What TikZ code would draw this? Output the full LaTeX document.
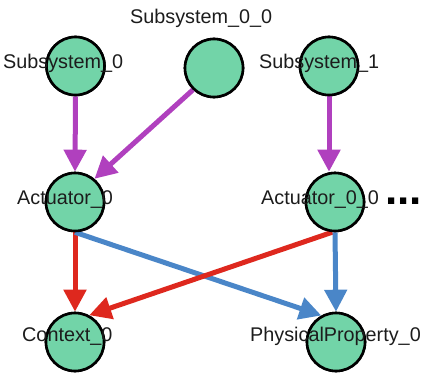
\documentclass[tikz,border=0pt]{standalone}
\usepackage{fontspec}
\setmainfont{Liberation Sans}
\usetikzlibrary{arrows.meta}
\definecolor{nodegreen}{RGB}{114,212,168}
\definecolor{edgepurple}{RGB}{176,64,190}
\definecolor{edgered}{RGB}{222,40,30}
\definecolor{edgeblue}{RGB}{74,134,200}
\definecolor{labelgray}{RGB}{28,28,28}
\tikzset{
  vnode/.style={circle,draw=black,line width=2.6pt,fill=nodegreen,minimum size=58pt,inner sep=0pt},
  vlabel/.style={anchor=base west,inner sep=0pt,text=labelgray,font=\fontsize{19.8}{22}\selectfont},
  edgearrow/.style={line width=5pt,-{Triangle[length=22pt,width=22pt]}},
  dotsstyle/.style={anchor=base east,inner sep=0pt,text=black,font=\fontsize{44}{44}\selectfont\bfseries}
}
\begin{document}
\begin{tikzpicture}[x=1pt,y=-1pt]
\useasboundingbox (0,0) rectangle (422,372);
% nodes
\node[vnode] (s0) at (75.5,66) {};
\node[vnode] (s00) at (214,68) {};
\node[vnode] (s1) at (329,66) {};
\node[vnode] (a0) at (75,202) {};
\node[vnode] (a00) at (335,202) {};
\node[vnode] (c0) at (75,342) {};
\node[vnode] (pp) at (336,342) {};
% edges
\draw[edgearrow,edgepurple] (s0.south) -- (a0.north);
\draw[edgearrow,edgepurple] (s00.226) -- (a0.50);
\draw[edgearrow,edgepurple] (s1.south) -- (s1.south |- a00.north);
\draw[edgearrow,edgered] (a0.south) -- (c0.north);
\draw[edgearrow,edgeblue] (a0.south) -- (pp.119);
\draw[edgearrow,edgered] (a00.265) -- (c0.62);
\draw[edgearrow,edgeblue] (a00.south) -- (pp.north);
% circles redrawn over the edge starts
\foreach \n in {s0,s00,s1,a0,a00,c0,pp}{
  \draw[line width=2.6pt,fill=nodegreen] (\n.center) circle (29pt);
}
% labels
\node[vlabel] (ls00) at (130,23) {Subsystem\_0\_0};
\node[vlabel] (ls0) at (3,68) {Subsystem\_0};
\node[vlabel] (ls1) at (259,68) {Subsystem\_1};
\node[vlabel] (la0) at (17,204) {Actuator\_0};
\node[vlabel] (la00) at (261,204) {Actuator\_0\_0};
\node[vlabel] (lc0) at (22,341) {Context\_0};
\node[vlabel] (lpp) at (250,341) {PhysicalProperty\_0};
\node[dotsstyle] (dots) at (421.5,204) {.\kern-0.6pt.\kern-0.6pt.};
\end{tikzpicture}
\end{document}
